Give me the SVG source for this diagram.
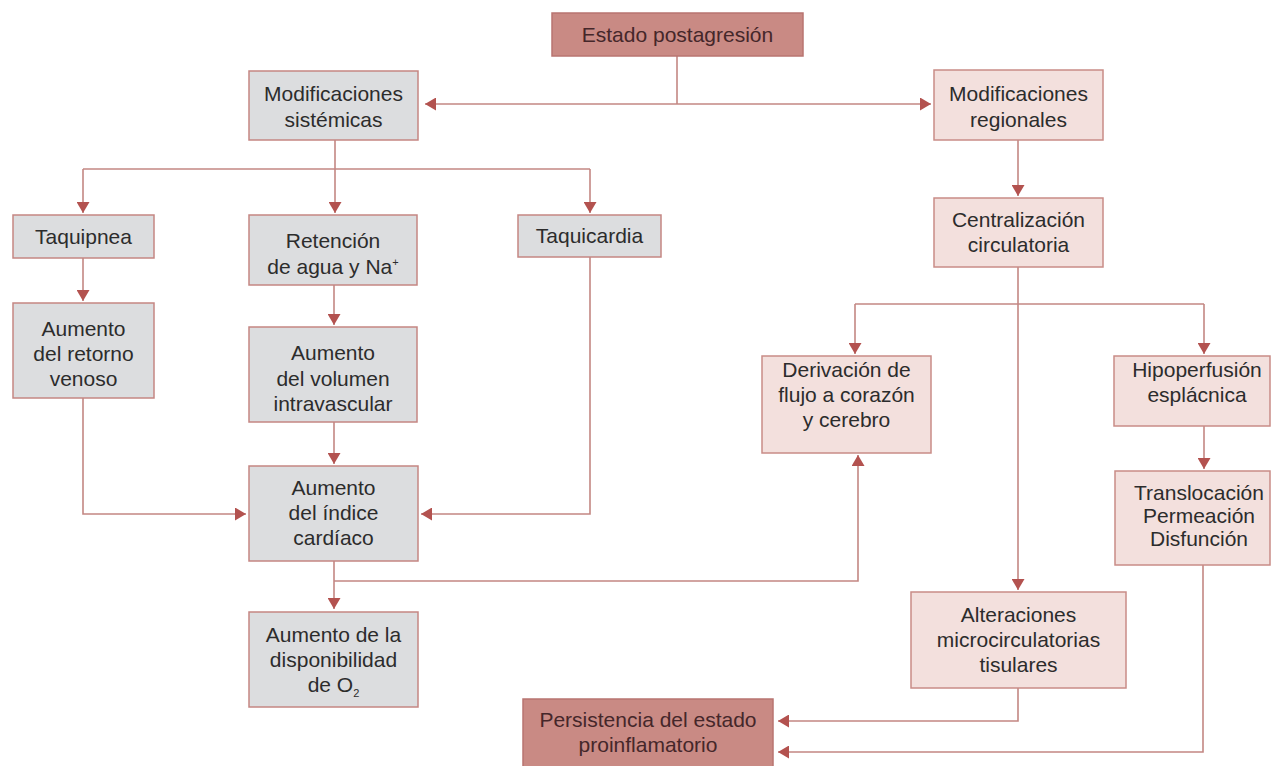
<svg xmlns="http://www.w3.org/2000/svg" width="1273" height="766" viewBox="0 0 1273 766">
  <style>
    text { font-family: "Liberation Sans", Arial, sans-serif; font-size: 21px; text-anchor: middle; fill: #2c2c2c; }
    .dark rect { fill: #c98a84; stroke: #b87470; stroke-width: 1.5; }
    .dark text { fill: #45272a; }
    .gray rect { fill: #dcdddf; stroke: #c58683; stroke-width: 1.5; }
    .pink rect { fill: #f3e0dd; stroke: #c98c87; stroke-width: 1.5; }
    .edge { fill: none; stroke: #c38783; stroke-width: 1.6; }
    .sub { font-size: 11px; }
  </style>
  <defs>
    <marker id="arrow" markerUnits="userSpaceOnUse" markerWidth="12" markerHeight="13" refX="11" refY="6.5" orient="auto">
      <path d="M0,0 L11,6.5 L0,13 Z" fill="#b3524f"/>
    </marker>
  </defs>

  <rect width="1273" height="766" fill="#ffffff"/>

  <!-- connectors -->
  <g id="connectors">
    <path class="edge" d="M677,56 V104"/>
    <path class="edge" d="M677,104 H425" marker-end="url(#arrow)"/>
    <path class="edge" d="M677,104 H931" marker-end="url(#arrow)"/>

    <path class="edge" d="M335,140 V169"/>
    <path class="edge" d="M83,169 H590"/>
    <path class="edge" d="M83,169 V213" marker-end="url(#arrow)"/>
    <path class="edge" d="M335,169 V213" marker-end="url(#arrow)"/>
    <path class="edge" d="M590,169 V213" marker-end="url(#arrow)"/>

    <path class="edge" d="M83,258 V301" marker-end="url(#arrow)"/>
    <path class="edge" d="M334,285 V325" marker-end="url(#arrow)"/>
    <path class="edge" d="M334,422 V464" marker-end="url(#arrow)"/>
    <path class="edge" d="M83,398 V514 H246" marker-end="url(#arrow)"/>
    <path class="edge" d="M590,257 V514 H421" marker-end="url(#arrow)"/>
    <path class="edge" d="M334,561 V609" marker-end="url(#arrow)"/>
    <path class="edge" d="M334,581 H858 V455" marker-end="url(#arrow)"/>

    <path class="edge" d="M1018,140 V196" marker-end="url(#arrow)"/>
    <path class="edge" d="M1018,267 V590" marker-end="url(#arrow)"/>
    <path class="edge" d="M855,304 H1204"/>
    <path class="edge" d="M855,304 V354" marker-end="url(#arrow)"/>
    <path class="edge" d="M1204,304 V354" marker-end="url(#arrow)"/>
    <path class="edge" d="M1204,426 V469" marker-end="url(#arrow)"/>

    <path class="edge" d="M1018,688 V721 H778" marker-end="url(#arrow)"/>
    <path class="edge" d="M1203,565 V752 H778" marker-end="url(#arrow)"/>
  </g>

  <!-- nodes -->
  <g id="estado" class="dark">
    <rect x="552" y="13" width="251" height="43"/>
    <text x="677.5" y="42">Estado postagresión</text>
  </g>

  <g id="sistemicas" class="gray">
    <rect x="249" y="71" width="169" height="69"/>
    <text x="333.5" y="101">Modificaciones</text>
    <text x="333.5" y="127">sistémicas</text>
  </g>

  <g id="regionales" class="pink">
    <rect x="934" y="70" width="169" height="70"/>
    <text x="1018.5" y="101">Modificaciones</text>
    <text x="1018.5" y="127">regionales</text>
  </g>

  <g id="taquipnea" class="gray">
    <rect x="13" y="215" width="141" height="43"/>
    <text x="83.5" y="244">Taquipnea</text>
  </g>

  <g id="retencion" class="gray">
    <rect x="249" y="215" width="168" height="70"/>
    <text x="333" y="248">Retención</text>
    <text x="333" y="274">de agua y Na<tspan class="sub" dy="-8">+</tspan></text>
  </g>

  <g id="taquicardia" class="gray">
    <rect x="518" y="215" width="143" height="42"/>
    <text x="589.5" y="243">Taquicardia</text>
  </g>

  <g id="retorno" class="gray">
    <rect x="13" y="303" width="141" height="95"/>
    <text x="83.5" y="336">Aumento</text>
    <text x="83.5" y="361">del retorno</text>
    <text x="83.5" y="386">venoso</text>
  </g>

  <g id="volumen" class="gray">
    <rect x="249" y="327" width="168" height="95"/>
    <text x="333" y="360">Aumento</text>
    <text x="333" y="386">del volumen</text>
    <text x="333" y="411">intravascular</text>
  </g>

  <g id="indice" class="gray">
    <rect x="249" y="466" width="169" height="95"/>
    <text x="333.5" y="495">Aumento</text>
    <text x="333.5" y="520">del índice</text>
    <text x="333.5" y="545">cardíaco</text>
  </g>

  <g id="disponibilidad" class="gray">
    <rect x="249" y="612" width="169" height="95"/>
    <text x="333.5" y="642">Aumento de la</text>
    <text x="333.5" y="667">disponibilidad</text>
    <text x="333.5" y="692">de O<tspan class="sub" dy="5">2</tspan></text>
  </g>

  <g id="centralizacion" class="pink">
    <rect x="934" y="198" width="169" height="69"/>
    <text x="1018.5" y="227">Centralización</text>
    <text x="1018.5" y="252">circulatoria</text>
  </g>

  <g id="derivacion" class="pink">
    <rect x="762" y="356" width="169" height="97"/>
    <text x="846.5" y="377">Derivación de</text>
    <text x="846.5" y="402">flujo a corazón</text>
    <text x="846.5" y="427">y cerebro</text>
  </g>

  <g id="hipoperfusion" class="pink">
    <rect x="1114" y="356" width="156" height="70"/>
    <text x="1197" y="377">Hipoperfusión</text>
    <text x="1197" y="402">esplácnica</text>
  </g>

  <g id="translocacion" class="pink">
    <rect x="1115" y="471" width="155" height="94"/>
    <text x="1199" y="500">Translocación</text>
    <text x="1199" y="523">Permeación</text>
    <text x="1199" y="546">Disfunción</text>
  </g>

  <g id="alteraciones" class="pink">
    <rect x="911" y="592" width="215" height="96"/>
    <text x="1018.5" y="622">Alteraciones</text>
    <text x="1018.5" y="647">microcirculatorias</text>
    <text x="1018.5" y="672">tisulares</text>
  </g>

  <g id="persistencia" class="dark">
    <rect x="523" y="699" width="250" height="80"/>
    <text x="648" y="727">Persistencia del estado</text>
    <text x="648" y="752">proinflamatorio</text>
  </g>
</svg>
